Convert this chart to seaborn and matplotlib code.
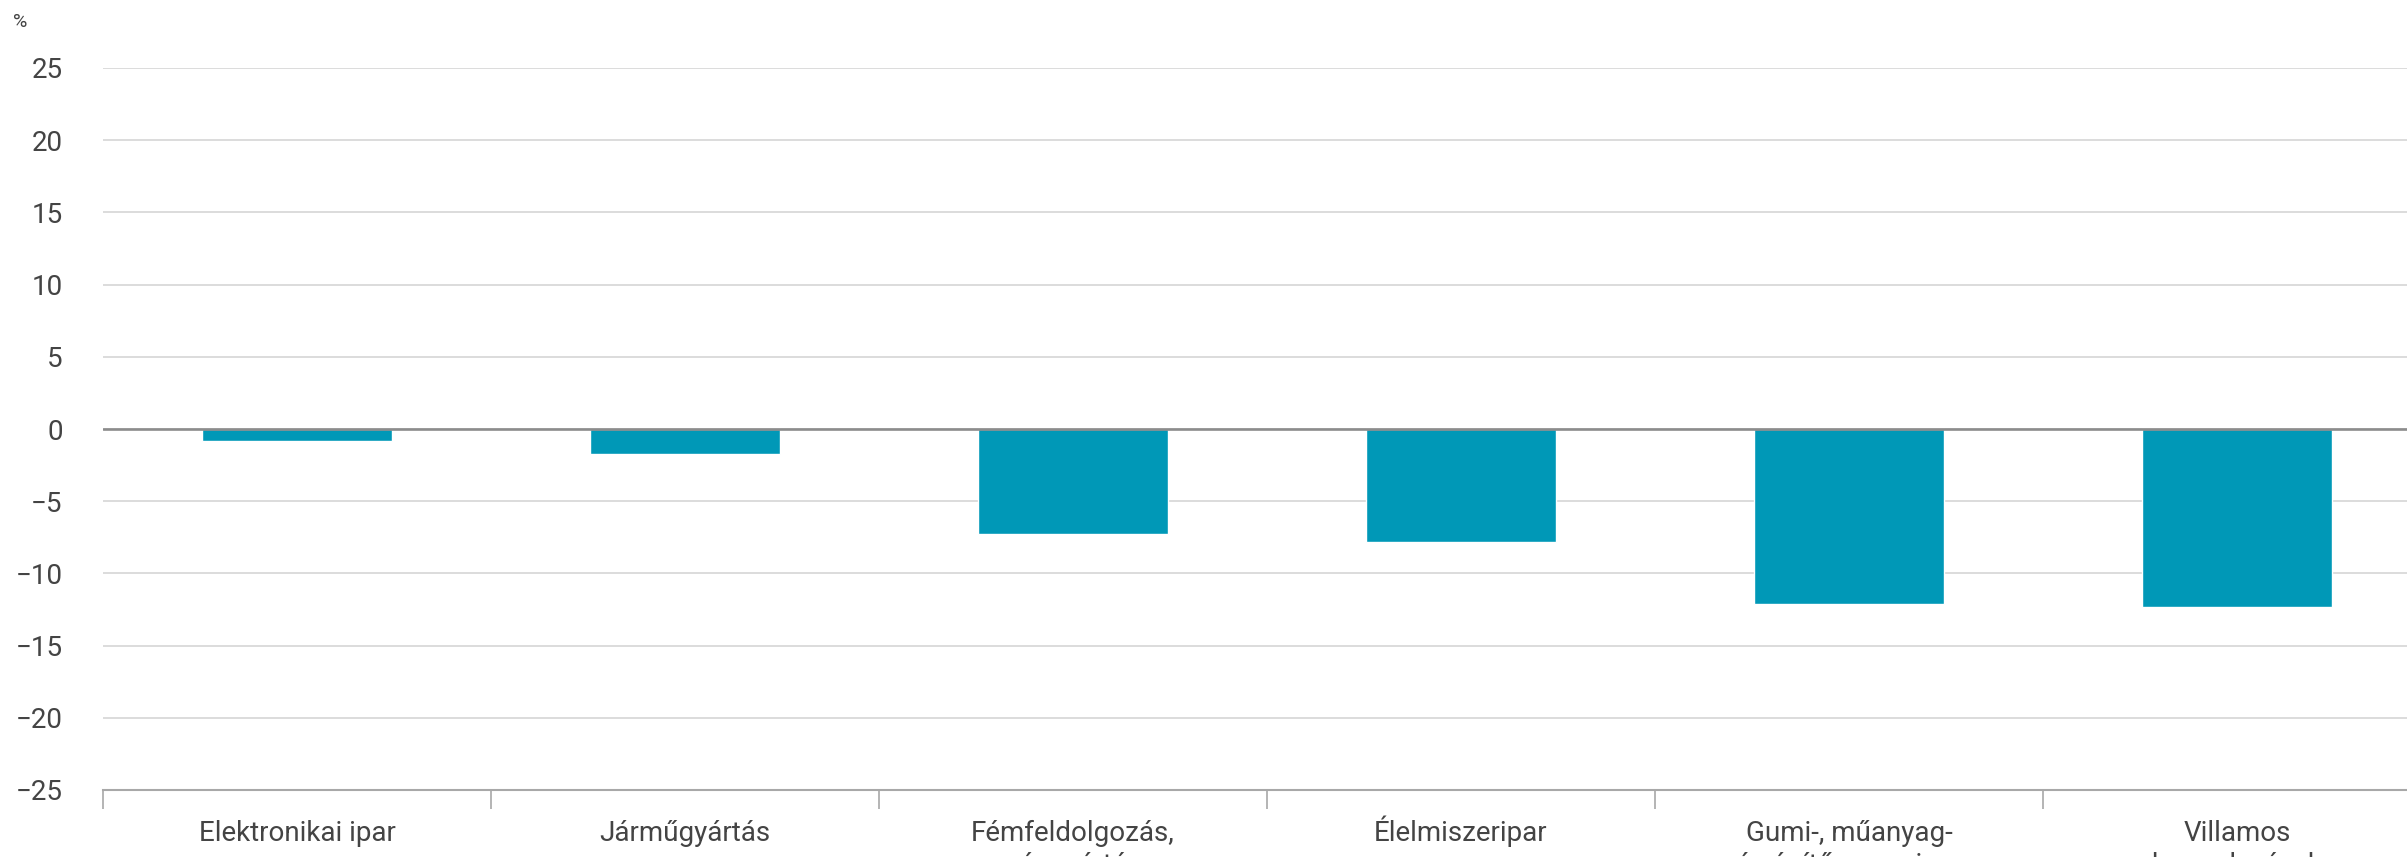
import pandas as pd
import seaborn as sns
import matplotlib.pyplot as plt
from matplotlib.ticker import MultipleLocator

categories = [
    'Elektronikai ipar',
    'Járműgyártás',
    'Fémfeldolgozás,\ngépgyártás',
    'Élelmiszeripar',
    'Gumi-, műanyag-\nés építőanyag-ipar',
    'Villamos\nberendezések',
]
values = [-0.8, -1.7, -7.3, -7.8, -12.1, -12.3]
y_ticks = [-25, -20, -15, -10, -5, 0, 5, 10, 15, 20, 25]

df = pd.DataFrame({'category': categories, 'value': values})

sns.set_style('white')
plt.rcParams['font.family'] = ['Roboto', 'DejaVu Sans']

fig = plt.figure(figsize=(24.07, 8.57), dpi=100)
ax = fig.add_axes([103 / 2407, 1 - 790 / 857, 1 - 103 / 2407, (790 - 68) / 857])

sns.barplot(data=df, x='category', y='value', color='#0098b7',
            width=0.49, saturation=1, ax=ax, zorder=3)

ax.set_ylim(-25, 25)
ax.set_xlim(-0.5, -0.5 + (2407 - 103) / 388)
ax.set_yticks(y_ticks)
ax.set_yticklabels([str(t).replace('-', '\u2212') for t in y_ticks])

# gridlines and zero line
for t in y_ticks:
    if t == -25:
        continue
    ax.axhline(t, color='#dcdcdc', lw=1.4, zorder=1)
ax.axhline(0, color='#8c8c8c', lw=1.9, zorder=4)

for s in ['top', 'right', 'left']:
    ax.spines[s].set_visible(False)
ax.spines['bottom'].set_color('#a8a8a8')
ax.spines['bottom'].set_linewidth(1.5)

# category separators as minor ticks
ax.xaxis.set_minor_locator(MultipleLocator(1, offset=0.5))
ax.tick_params(axis='x', which='minor', length=14, width=1.2, color='#a8a8a8',
               direction='out', bottom=True)

# every label gets two lines so the first lines share one baseline
# (the second lines run off the bottom edge, as in the original)
labels = [c if '\n' in c else c + '\n' for c in categories]
ax.set_xticks(range(len(categories)))
ax.set_xticklabels(labels)
ax.tick_params(axis='x', which='major', length=0, pad=59.5,
               labelsize=20, labelcolor='#444444')
for lbl in ax.get_xticklabels():
    lbl.set_verticalalignment('baseline')
ax.tick_params(axis='y', length=0, pad=29, labelsize=20, labelcolor='#444444')

ax.set_xlabel('')
ax.set_ylabel('')

fig.text(13 / 2407, 1 - 22 / 857, '%', fontsize=14, color='#444444',
         ha='left', va='center')

plt.savefig('out.png', dpi=100)
